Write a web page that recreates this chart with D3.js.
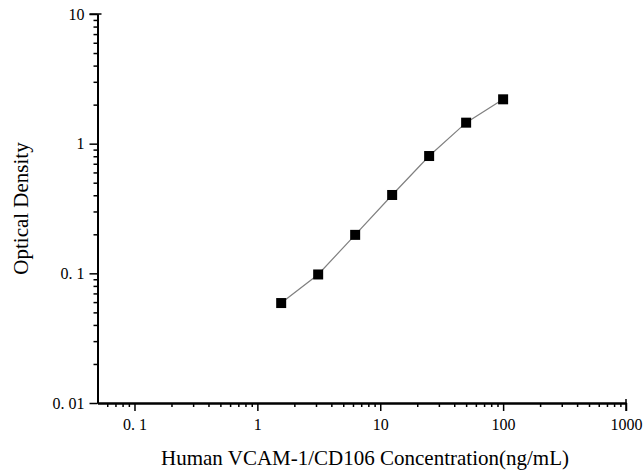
<!DOCTYPE html>
<html>
<head>
<meta charset="utf-8">
<style>
    body { margin: 0; background: #fff; }
    svg { display: block; }
</style>
</head>
<body>
<script src="https://d3js.org/d3.v7.min.js"></script>
<script>
    // standard curve readings
    const concentration = [1.5625, 3.125, 6.25, 12.5, 25, 50, 100];
    const optical_density = [0.059, 0.098, 0.198, 0.402, 0.803, 1.452, 2.198];

    const x_ticks = [0.1, 1, 10, 100, 1000];
    const x_tick_labels = ["0. 1", "1", "10", "100", "1000"];
    const y_ticks = [0.01, 0.1, 1, 10];
    const y_tick_labels = ["0. 01", "0. 1", "1", "10"];

    const x_title = "Human VCAM-1/CD106 Concentration(ng/mL)";
    const y_title = "Optical Density";

    let svg_w = 643;
    let svg_h = 470;
    let left_marg = 97.5;
    let right_marg = 17;
    let top_marg = 14;
    let bottom_marg = 67;

    let svg = d3.select("body").append("svg")
        .attr("width", svg_w)
        .attr("height", svg_h)
        .style("font-family", "'Liberation Serif', 'Times New Roman', serif");

    let x_scale = d3.scaleLog()
        .domain([0.05, 1000])
        .range([left_marg, svg_w - right_marg]);

    let y_scale = d3.scaleLog()
        .domain([0.01, 10])
        .range([svg_h - bottom_marg, top_marg]);

    // minor ticks 2..9 in every decade, inside the domain
    function minor_ticks(scale) {
        let [lo, hi] = scale.domain();
        let out = [];
        for (let e = Math.floor(Math.log10(lo)); e < Math.ceil(Math.log10(hi)); e++) {
            for (let m = 2; m <= 9; m++) {
                let v = m * Math.pow(10, e);
                if (v > lo * 1.0001 && v < hi * 0.9999) out.push(v);
            }
        }
        return out;
    }

    // x axis
    let x_axis_g = svg.append("g")
        .attr("transform", "translate(0," + (svg_h - bottom_marg) + ")");
    x_axis_g.call(d3.axisBottom(x_scale)
            .tickValues(minor_ticks(x_scale))
            .tickFormat("")
            .tickSize(4)
            .tickSizeOuter(0));
    x_axis_g.append("g").call(d3.axisBottom(x_scale)
            .tickValues(x_ticks)
            .tickFormat((d, i) => x_tick_labels[i])
            .tickSize(8)
            .tickPadding(8)
            .tickSizeOuter(0));
    x_axis_g.selectAll("path.domain")
        .attr("stroke-width", 2);
    x_axis_g.selectAll(".tick line").attr("stroke-width", 1.5);
    x_axis_g.selectAll("text")
        .attr("fill", "#000")
        .style("font-size", "16px")
        .style("font-family", "'Liberation Serif', serif");
    // closing tick at the right end of the axis
    svg.append("line")
        .attr("x1", x_scale(1000)).attr("x2", x_scale(1000))
        .attr("y1", svg_h - bottom_marg - 4).attr("y2", svg_h - bottom_marg + 8)
        .attr("stroke", "#000").attr("stroke-width", 1.5);

    // y axis
    let y_axis_g = svg.append("g")
        .attr("transform", "translate(" + left_marg + ",0)");
    y_axis_g.call(d3.axisLeft(y_scale)
            .tickValues(minor_ticks(y_scale))
            .tickFormat("")
            .tickSize(4)
            .tickSizeOuter(0));
    y_axis_g.append("g").call(d3.axisLeft(y_scale)
            .tickValues(y_ticks)
            .tickFormat((d, i) => y_tick_labels[i])
            .tickSize(8)
            .tickPadding(5)
            .tickSizeOuter(0));
    y_axis_g.selectAll("path.domain")
        .attr("stroke-width", 2);
    y_axis_g.selectAll(".tick line").attr("stroke-width", 1.5);
    y_axis_g.selectAll("text")
        .attr("fill", "#000")
        .style("font-size", "16px")
        .style("font-family", "'Liberation Serif', serif");
    svg.append("line")
        .attr("x1", left_marg - 8).attr("x2", left_marg + 4)
        .attr("y1", y_scale(10)).attr("y2", y_scale(10))
        .attr("stroke", "#000").attr("stroke-width", 1.5);

    // line + square markers
    let points = concentration.map((c, i) => ({x: c, y: optical_density[i]}));

    svg.append("path")
        .datum(points)
        .attr("fill", "none")
        .attr("stroke", "#808080")
        .attr("stroke-width", 1.2)
        .attr("d", d3.line()
            .x(d => x_scale(d.x))
            .y(d => y_scale(d.y)));

    svg.selectAll("rect.pt")
        .data(points)
        .enter()
        .append("rect")
        .attr("class", "pt")
        .attr("x", d => x_scale(d.x) - 5)
        .attr("y", d => y_scale(d.y) - 5)
        .attr("width", 10)
        .attr("height", 10)
        .attr("fill", "#000");

    // axis titles
    svg.append("text")
        .text(x_title)
        .attr("text-anchor", "middle")
        .attr("x", 365)
        .attr("y", 465)
        .style("font-size", "21px");

    svg.append("text")
        .text(y_title)
        .attr("text-anchor", "middle")
        .attr("transform", "translate(28," + ((top_marg + svg_h - bottom_marg) / 2) + ")rotate(-90)")
        .style("font-size", "21px");
</script>
</body>
</html>
